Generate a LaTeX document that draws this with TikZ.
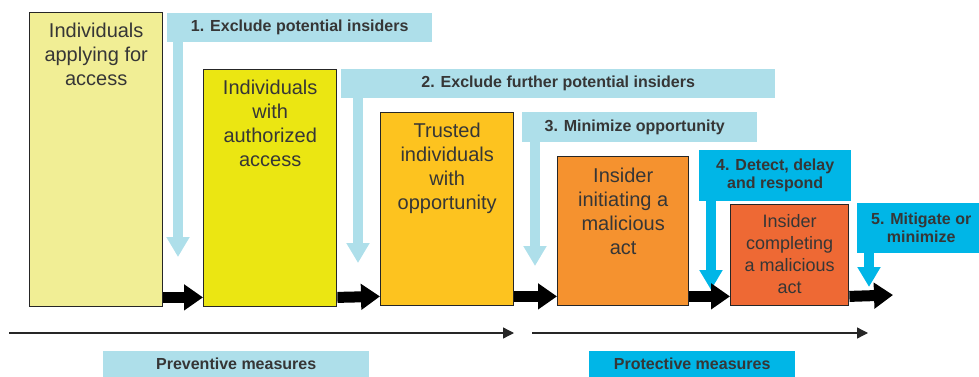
\documentclass[tikz,border=0pt]{standalone}
\usepackage{fontspec}
\setmainfont{Liberation Sans}
\usetikzlibrary{arrows.meta,positioning}

\definecolor{paleyellow}{HTML}{F1EE95}
\definecolor{brightyellow}{HTML}{EBE612}
\definecolor{amber}{HTML}{FDC31F}
\definecolor{lightorange}{HTML}{F5922F}
\definecolor{redorange}{HTML}{EE6934}
\definecolor{paleblue}{HTML}{AEDFEA}
\definecolor{strongcyan}{HTML}{00B6E7}
\definecolor{textgray}{HTML}{363636}

\begin{document}
\begin{tikzpicture}[x=1pt,y=-1pt,
    mystage/.style={draw=black!85,line width=1.4pt,anchor=north west,inner sep=0pt},
    mytext/.style={align=center,inner sep=0pt,text=textgray,font=\fontsize{20}{24}\selectfont},
    mybanner/.style={anchor=north west,inner sep=0pt,align=center,text=textgray,font=\fontsize{16}{18}\selectfont\bfseries},
    flow/.style={line width=11pt,-{Triangle[length=19pt,width=25pt]}},
    stem/.style={line width=10pt,-{Triangle[length=20pt,width=22pt]}},
    timeline/.style={line width=1.3pt,black!85,-{Triangle[length=11pt,width=11pt]}}]

        \useasboundingbox (0,0) rectangle (979,377);

        %stages
        \node[mystage,fill=paleyellow,minimum width=133pt,minimum height=294pt] (s1) at (29,12) {};
        \node[mystage,fill=brightyellow,minimum width=133pt,minimum height=237pt] (s2) at (203,69) {};
        \node[mystage,fill=amber,minimum width=133pt,minimum height=193pt] (s3) at (380,112) {};
        \node[mystage,fill=lightorange,minimum width=131pt,minimum height=149pt] (s4) at (557,156) {};
        \node[mystage,fill=redorange,minimum width=118pt,minimum height=101pt] (s5) at (730,204) {};

        %label stages
        \node[mytext,below=11pt of s1.north] (l1) {Individuals\\applying for\\access};
        \node[mytext,below=11pt of s2.north] (l2) {Individuals\\with\\authorized\\access};
        \node[mytext,below=11pt of s3.north] (l3) {Trusted\\individuals\\with\\opportunity};
        \node[mytext,below=12pt of s4.north] (l4) {Insider\\initiating a\\malicious\\act};
        \node[mytext,font=\fontsize{18}{22}\selectfont,below=10pt of s5.north] (l5) {Insider\\completing\\a malicious\\act};

        %measures
        \node[mybanner,fill=paleblue,minimum width=265pt,minimum height=29pt] (b1) at (167,13) {1. Exclude potential insiders};
        \node[mybanner,fill=paleblue,minimum width=434pt,minimum height=29pt] (b2) at (341,69) {2. Exclude further potential insiders};
        \node[mybanner,fill=paleblue,minimum width=235pt,minimum height=30pt] (b3) at (522,112) {3. Minimize opportunity\hspace{10pt}};
        \node[mybanner,fill=strongcyan,minimum width=152pt,minimum height=51pt] (b4) at (699,150) {4. Detect, delay\\and respond};
        \node[mybanner,fill=strongcyan,minimum width=122pt,minimum height=50pt] (b5) at (857,203) {\hspace{6pt}5. Mitigate or\\\hspace{6pt}minimize};

        %arrow tips
        \coordinate (t1) at (178,257);
        \coordinate (t2) at (358,263);
        \coordinate (t3) at (535,266);
        \coordinate (t4) at (711,290);
        \coordinate (t5) at (869,287);

        %vertical arrow
        \draw[stem,paleblue] (b1.south -| t1) -- (t1);
        \draw[stem,paleblue] (b2.south -| t2) -- (t2);
        \draw[stem,paleblue] (b3.south -| t3) -- (t3);
        \draw[stem,strongcyan] (b4.south -| t4) -- (t4);
        \draw[stem,strongcyan] (b5.south -| t5) -- (t5);

        %horizontal arrow
        \coordinate (out) at (893,295);
        \draw[flow] ([yshift=10pt]s1.south east) -- ([yshift=10pt]s2.south west);
        \draw[flow] ([yshift=10pt]s2.south east) -- ([yshift=10pt]s3.south west);
        \draw[flow] ([yshift=10pt]s3.south east) -- ([yshift=10pt]s4.south west);
        \draw[flow] ([yshift=10pt]s4.south east) -- ([yshift=10pt]s5.south west);
        \draw[flow] ([yshift=10pt]s5.south east) -- (out);

        %time line
        \coordinate (p0) at (9,333);
        \coordinate (p1) at (514,333);
        \coordinate (q0) at (532,333);
        \coordinate (q1) at (868,333);
        \draw[timeline] (p0) -- (p1);
        \draw[timeline] (q0) -- (q1);

        \node[mybanner,fill=paleblue,minimum width=266pt,minimum height=26pt] (prev) at (103,351) {Preventive measures};
        \node[mybanner,fill=strongcyan,minimum width=206pt,minimum height=26pt] (prot) at (589,351) {Protective measures};
        \end{tikzpicture}
\end{document}
